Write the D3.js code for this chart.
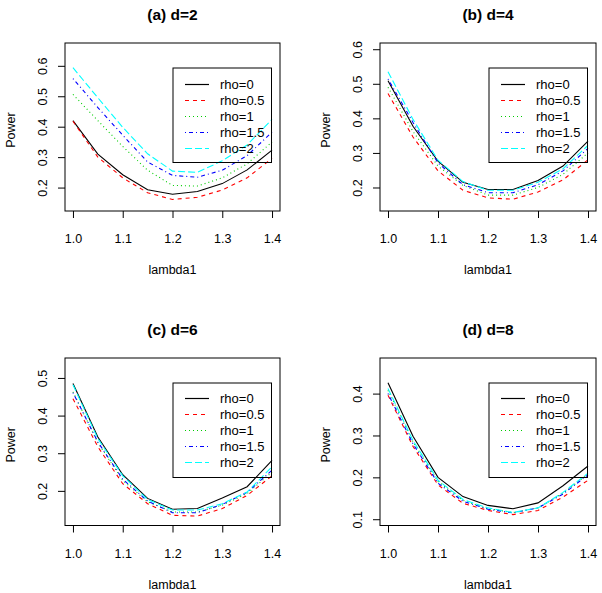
<!DOCTYPE html>
<html>
<head>
<meta charset="utf-8">
<script src="https://cdn.jsdelivr.net/npm/d3@7/dist/d3.min.js"></script>
<style>
  html, body { margin: 0; padding: 0; background: #fff; }
  svg { display: block; }
  text { font-family: "Liberation Sans", Arial, Helvetica, sans-serif; fill: #000; }
</style>
</head>
<body>
<svg id="chart" width="602" height="593"></svg>
<script>
// ---------- data ----------
const lambda1 = [1.0, 1.05, 1.1, 1.15, 1.2, 1.25, 1.3, 1.35, 1.4];
const xTicks = [1.0, 1.1, 1.2, 1.3, 1.4];
const xTickLabels = ["1.0", "1.1", "1.2", "1.3", "1.4"];
const seriesLabels = ["rho=0", "rho=0.5", "rho=1", "rho=1.5", "rho=2"];
const panelTitles = ["(a) d=2", "(b) d=4", "(c) d=6", "(d) d=8"];

// panel (a) d=2
const a_rho0  = [0.420, 0.310, 0.242, 0.193, 0.178, 0.187, 0.213, 0.258, 0.323];
const a_rho05 = [0.418, 0.300, 0.232, 0.183, 0.161, 0.168, 0.192, 0.232, 0.296];
const a_rho1  = [0.506, 0.420, 0.335, 0.257, 0.207, 0.205, 0.232, 0.278, 0.350];
const a_rho15 = [0.558, 0.463, 0.372, 0.284, 0.240, 0.234, 0.257, 0.305, 0.382];
const a_rho2  = [0.594, 0.495, 0.398, 0.311, 0.254, 0.250, 0.288, 0.340, 0.424];
// panel (b) d=4
const b_rho0  = [0.509, 0.377, 0.276, 0.215, 0.194, 0.194, 0.220, 0.262, 0.334];
const b_rho05 = [0.472, 0.346, 0.248, 0.192, 0.170, 0.166, 0.187, 0.222, 0.280];
const b_rho1  = [0.490, 0.362, 0.262, 0.206, 0.178, 0.178, 0.200, 0.238, 0.300];
const b_rho15 = [0.514, 0.388, 0.271, 0.208, 0.185, 0.185, 0.208, 0.248, 0.313];
const b_rho2  = [0.535, 0.397, 0.279, 0.217, 0.192, 0.192, 0.215, 0.254, 0.322];
// panel (c) d=6
const c_rho0  = [0.485, 0.343, 0.243, 0.180, 0.151, 0.153, 0.181, 0.211, 0.281];
const c_rho05 = [0.445, 0.317, 0.219, 0.166, 0.135, 0.133, 0.153, 0.188, 0.240];
const c_rho1  = [0.463, 0.328, 0.228, 0.171, 0.144, 0.144, 0.162, 0.193, 0.250];
const c_rho15 = [0.461, 0.330, 0.231, 0.173, 0.142, 0.142, 0.164, 0.196, 0.255];
const c_rho2  = [0.482, 0.339, 0.240, 0.177, 0.149, 0.149, 0.166, 0.197, 0.264];
// panel (d) d=8
const d_rho0  = [0.426, 0.298, 0.200, 0.154, 0.133, 0.125, 0.139, 0.180, 0.227];
const d_rho05 = [0.396, 0.274, 0.182, 0.138, 0.121, 0.111, 0.121, 0.153, 0.193];
const d_rho1  = [0.408, 0.285, 0.190, 0.145, 0.125, 0.116, 0.127, 0.162, 0.208];
const d_rho15 = [0.400, 0.280, 0.186, 0.143, 0.124, 0.115, 0.127, 0.160, 0.206];
const d_rho2  = [0.412, 0.288, 0.193, 0.147, 0.127, 0.116, 0.127, 0.164, 0.210];

const yTicksA = [0.2, 0.3, 0.4, 0.5, 0.6];
const yTicksB = [0.2, 0.3, 0.4, 0.5, 0.6];
const yTicksC = [0.2, 0.3, 0.4, 0.5];
const yTicksD = [0.1, 0.2, 0.3, 0.4];

// ---------- styles ----------
const colors = ["#000000", "#FF0000", "#00CD00", "#0000FF", "#00FFFF"];
const dashes = [null, "4,4", "1,3", "1,3,4,3", "7,3"];

const panels = [
  { title: panelTitles[0], series: [a_rho0, a_rho05, a_rho1, a_rho15, a_rho2], yTicks: yTicksA,
    yDomain: [0.123, 0.675], box: { l: 65, r: 280, t: 43, b: 211 } },
  { title: panelTitles[1], series: [b_rho0, b_rho05, b_rho1, b_rho15, b_rho2], yTicks: yTicksB,
    yDomain: [0.132, 0.618], box: { l: 380, r: 596, t: 43, b: 211 } },
  { title: panelTitles[2], series: [c_rho0, c_rho05, c_rho1, c_rho15, c_rho2], yTicks: yTicksC,
    yDomain: [0.108, 0.553], box: { l: 65, r: 280, t: 358, b: 525.5 } },
  { title: panelTitles[3], series: [d_rho0, d_rho05, d_rho1, d_rho15, d_rho2], yTicks: yTicksD,
    yDomain: [0.085, 0.485], box: { l: 380, r: 596, t: 358, b: 525.5 } }
];

const svg = d3.select("#chart");
svg.append("rect").attr("width", 602).attr("height", 593).attr("fill", "#fff");

panels.forEach(p => {
  const B = p.box;
  const x = d3.scaleLinear().domain([0.984, 1.416]).range([B.l, B.r]);
  const y = d3.scaleLinear().domain(p.yDomain).range([B.b, B.t]);
  const g = svg.append("g");

  // lines
  const line = d3.line().x((d, i) => x(lambda1[i])).y(d => y(d));
  p.series.forEach((s, k) => {
    g.append("path").datum(s)
      .attr("d", line)
      .attr("fill", "none")
      .attr("stroke", colors[k])
      .attr("stroke-width", 1.1)
      .attr("stroke-dasharray", dashes[k]);
  });

  // box
  g.append("rect")
    .attr("x", B.l).attr("y", B.t)
    .attr("width", B.r - B.l).attr("height", B.b - B.t)
    .attr("fill", "none").attr("stroke", "#000").attr("stroke-width", 1);

  // x axis
  const xa = g.append("g").attr("transform", `translate(0,${B.b})`)
    .call(d3.axisBottom(x).tickValues(xTicks).tickFormat((d, i) => xTickLabels[i]).tickSize(7).tickSizeOuter(0));
  xa.select(".domain").remove();
  xa.selectAll("text").attr("y", 32).attr("dy", null).attr("font-size", 12.5).style("font-family", "Liberation Sans, Arial, sans-serif");

  // y axis
  const ya = g.append("g").attr("transform", `translate(${B.l},0)`)
    .call(d3.axisLeft(y).tickValues(p.yTicks).tickFormat(d3.format(".1f")).tickSize(7).tickSizeOuter(0));
  ya.select(".domain").remove();
  ya.selectAll("text")
    .attr("x", 0).attr("y", -18).attr("dy", null)
    .attr("transform", "rotate(-90)")
    .attr("text-anchor", "middle")
    .attr("font-size", 12.5)
    .style("font-family", "Liberation Sans, Arial, sans-serif");

  const cx = (B.l + B.r) / 2, cy = (B.t + B.b) / 2;
  // title
  g.append("text").attr("x", cx).attr("y", B.t - 23)
    .attr("text-anchor", "middle").attr("font-size", 15.5).attr("font-weight", "bold")
    .text(p.title);
  // x label
  g.append("text").attr("x", cx).attr("y", B.b + 63)
    .attr("text-anchor", "middle").attr("font-size", 12.5).text("lambda1");
  // y label
  g.append("text").attr("transform", `translate(${B.l - 50},${cy + 3}) rotate(-90)`)
    .attr("text-anchor", "middle").attr("font-size", 12.5).text("Power");

  // legend (transparent box, as in the reference)
  const lx = B.r - 107, ly = B.t + 25, lw = 98.5, lh = 94.5;
  const row0 = Math.round((ly + 15) / 2) * 2;
  const lg = g.append("g");
  lg.append("rect").attr("x", lx).attr("y", ly).attr("width", lw).attr("height", lh)
    .attr("fill", "none").attr("stroke", "#000").attr("stroke-width", 1);
  seriesLabels.forEach((lab, k) => {
    const yy = row0 + k * 16 + 0.5;
    lg.append("path")
      .attr("d", `M${lx + 12},${yy}H${lx + 36}`)
      .attr("fill", "none")
      .attr("stroke", colors[k]).attr("stroke-width", 1.2).attr("stroke-dasharray", dashes[k]);
    lg.append("text").attr("x", lx + 47).attr("y", yy + 4.5).attr("font-size", 13).text(lab);
  });
});
</script>
</body>
</html>
